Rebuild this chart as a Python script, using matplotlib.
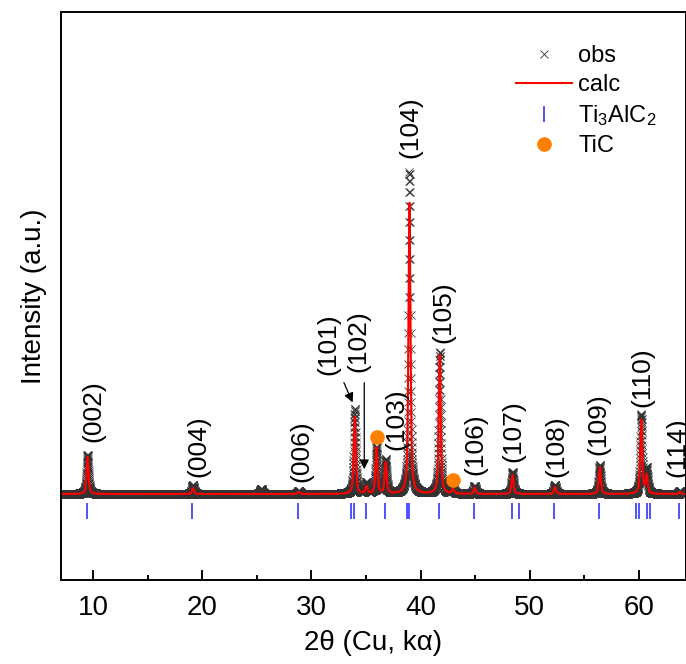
import numpy as np
import matplotlib
matplotlib.use('Agg')
import matplotlib.pyplot as plt
from matplotlib.ticker import MultipleLocator

plt.rcParams['font.family'] = ['Liberation Sans', 'DejaVu Sans']
plt.rcParams['mathtext.fontset'] = 'custom'
plt.rcParams['mathtext.rm'] = 'Liberation Sans'
plt.rcParams['mathtext.it'] = 'Liberation Sans:italic'
plt.rcParams['mathtext.default'] = 'regular'

peak_pos = [9.50, 19.15, 25.40, 28.85, 33.97, 35.05, 35.96, 36.80, 38.98, 41.75,
            42.96, 44.95, 48.42, 52.30, 56.40, 60.20, 60.70, 63.75]
peak_obs = [780, 180, 100, 60, 1700, 220, 920, 680, 6440, 2840,
            140, 160, 440, 180, 580, 1580, 500, 60]
peak_calc = [740, 120, 0, 40, 1540, 140, 920, 620, 5820, 2780,
             100, 120, 380, 140, 540, 1480, 360, 40]
background = 500
fwhm = 0.22

# Ti3AlC2 reflection positions
refl_pos = [9.45, 19.10, 28.80, 33.60, 33.90, 34.98, 36.70, 38.76, 38.90, 41.66,
            44.86, 48.36, 49.00, 52.20, 56.30, 59.70, 60.00, 60.70, 61.00, 63.70]

# TiC peaks marked with circles
tic_pos = [35.96, 42.96]
tic_y = [1640, 780]

# hkl labels: (label, 2theta, bottom of text)
hkl_labels = [('(002)', 10.06, 1540), ('(004)', 19.68, 840), ('(006)', 29.11, 740),
              ('(101)', 31.58, 2880), ('(102)', 34.30, 2940), ('(103)', 37.75, 1380),
              ('(104)', 39.09, 7220), ('(105)', 42.10, 3520), ('(106)', 45.03, 880),
              ('(107)', 48.50, 1140), ('(108)', 52.40, 840), ('(109)', 56.30, 1280),
              ('(110)', 60.30, 2240), ('(114)', 63.50, 840)]

two_theta = np.arange(7.0, 64.5, 0.01)


def profile(heights):
    y = np.full_like(two_theta, background, dtype=float)
    hw = fwhm / 2
    for p, h in zip(peak_pos, heights):
        lor = hw**2 / ((two_theta - p)**2 + hw**2)
        gau = np.exp(-np.log(2) * ((two_theta - p) / hw)**2)
        y += h * (0.6 * lor + 0.4 * gau)
    return y


obs = profile(peak_obs)
calc = profile(peak_calc)

fig = plt.figure(figsize=(6.86, 6.64), dpi=100)
ax = fig.add_axes([61 / 686, 84 / 664, 625 / 686, 568 / 664])

ax.plot(two_theta, obs, 'x', color='#333333', markersize=6, markeredgewidth=0.6,
        linestyle='none', label='obs')
ax.plot(two_theta, calc, '-', color='#ff0000', linewidth=1.5, label='calc')
ax.plot(refl_pos, [160] * len(refl_pos), '|', color='#3333ff', markersize=11.5,
        markeredgewidth=1.2, linestyle='none', label=r'Ti$_3$AlC$_2$')
ax.plot(tic_pos, tic_y, 'o', color='#ff8000', markersize=9.5, linestyle='none', label='TiC')

for lab, x, y in hkl_labels:
    ax.text(x, y, lab, rotation=90, ha='center', va='bottom', fontsize=19)

ax.annotate('', xy=(33.88, 2280), xytext=(32.87, 2780),
            arrowprops=dict(arrowstyle='-|>', color='black', lw=0.9, mutation_scale=14))
ax.annotate('', xy=(34.84, 940), xytext=(34.84, 2780),
            arrowprops=dict(arrowstyle='-|>', color='black', lw=0.9, mutation_scale=14))

ax.set_xlim(7.07, 64.3)
ax.set_ylim(-1220, 10140)
ax.xaxis.set_major_locator(MultipleLocator(10))
ax.xaxis.set_minor_locator(MultipleLocator(5))
ax.tick_params(axis='x', which='major', direction='in', length=7, width=1.4, labelsize=20, pad=11)
ax.tick_params(axis='x', which='minor', direction='in', length=3.6, width=1.4)
ax.set_yticks([])
for s in ax.spines.values():
    s.set_linewidth(1.4)

ax.set_xlabel(r'2θ (Cu, kα)', fontsize=20, labelpad=6)
ax.set_ylabel('Intensity (a.u.)', fontsize=20, labelpad=10)

ax.legend(loc='upper left', bbox_to_anchor=(504 / 686, 1 - 33 / 664), bbox_transform=fig.transFigure,
          frameon=False, fontsize=17, borderpad=0, handlelength=2.4, handletextpad=0.25,
          labelspacing=0.3)

fig.savefig('out.png', dpi=100)
